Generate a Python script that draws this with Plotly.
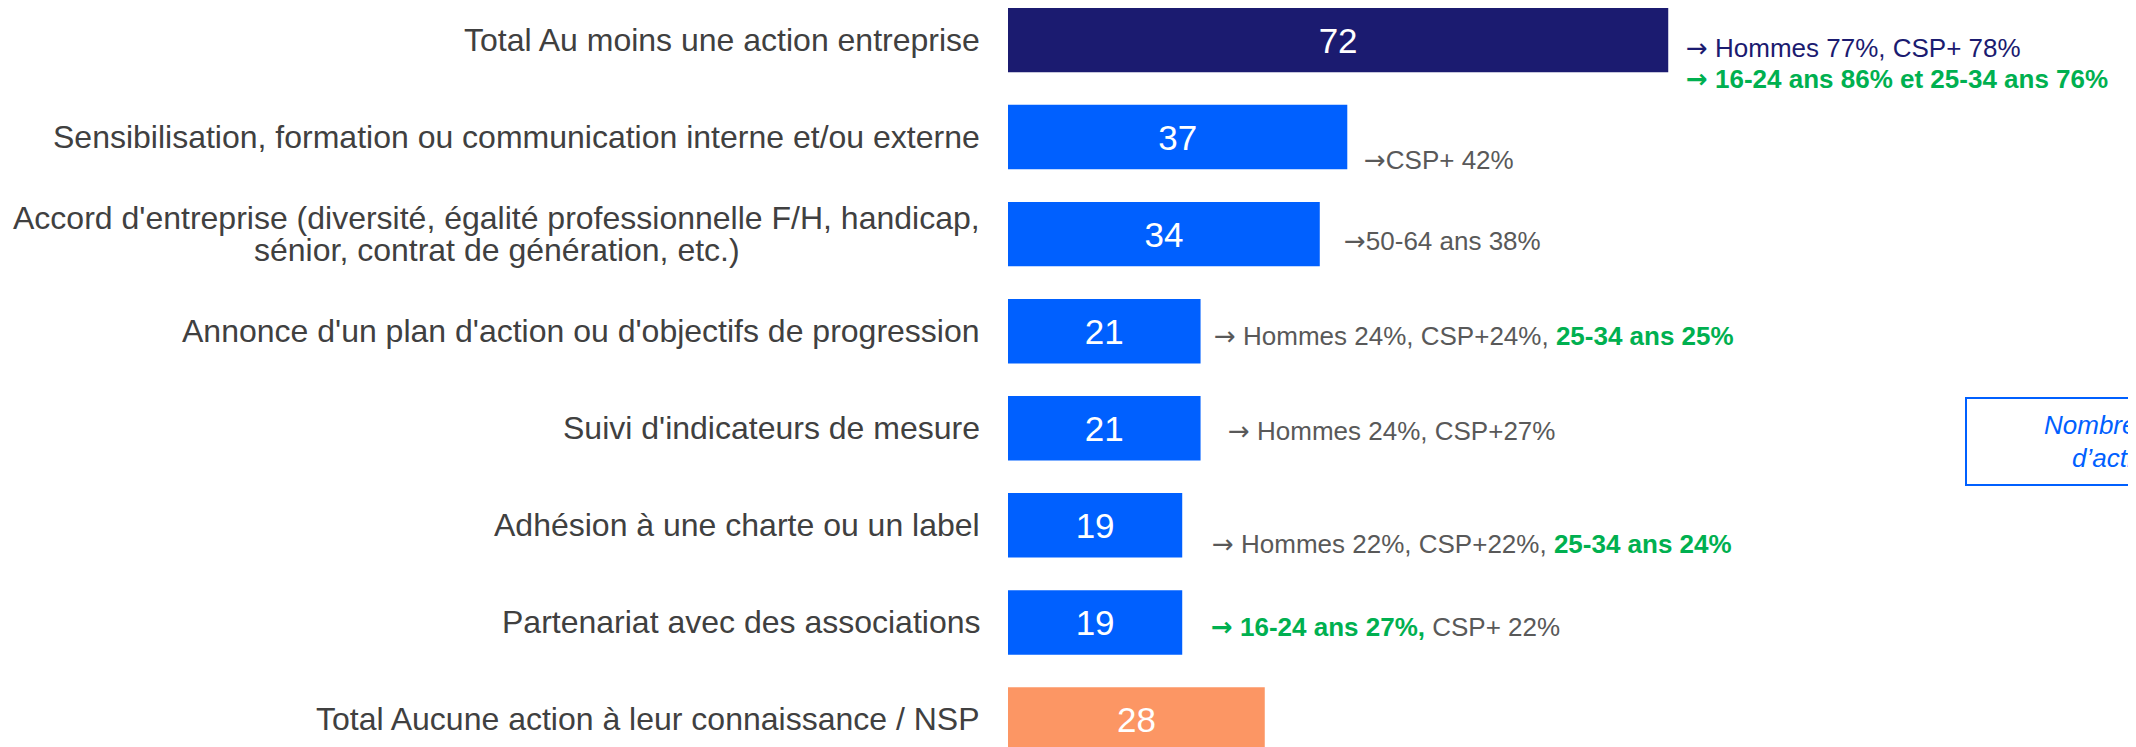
import plotly.graph_objects as go

# ---------------- data ----------------
categories = [
    "Total Au moins une action entreprise",
    "Sensibilisation, formation ou communication interne et/ou externe",
    "Accord d'entreprise (diversité, égalité professionnelle F/H, handicap,<br>sénior, contrat de génération, etc.)",
    "Annonce d'un plan d'action ou d'objectifs de progression",
    "Suivi d'indicateurs de mesure",
    "Adhésion à une charte ou un label",
    "Partenariat avec des associations",
    "Total Aucune action à leur connaissance / NSP",
]
values = [72, 37, 34, 21, 21, 19, 19, 28]

GREEN = "#00B050"
GRAY = "#595959"
NAVY = "#1B1B70"
BLUE = "#0060FF"
ORANGE = "#FC9664"

ARR = "<span style='font-family:DejaVu Sans'>→</span>"

# each note: list of lines (one annotation per line)
notes = [
    [f"<span style='color:{NAVY}'>{ARR} Hommes 77%, CSP+ 78%</span>",
     f"<span style='color:{GREEN}'><b>{ARR} 16-24 ans 86% et 25-34 ans 76%</b></span>"],
    [f"{ARR}CSP+ 42%"],
    [f"{ARR}50-64 ans 38%"],
    [f"{ARR} Hommes 24%, CSP+24%, <span style='color:{GREEN}'><b>25-34 ans 25%</b></span>"],
    [f"{ARR} Hommes 24%, CSP+27%"],
    [f"{ARR} Hommes 22%, CSP+22%, <span style='color:{GREEN}'><b>25-34 ans 24%</b></span>"],
    [f"<span style='color:{GREEN}'><b>{ARR} 16-24 ans 27%,</b></span> CSP+ 22%"],
    [],
]

box_lines = ["Nombre moyen", "d’actions citées"]

# ---------------- styles / positions ----------------
bar_colors = [NAVY, BLUE, BLUE, BLUE, BLUE, BLUE, BLUE, ORANGE]
note_xshift = [16, 15, 22, 11, 25, 28, 27, 0]
note_dy = [[8, 39], [22.5], [7], [4.5], [3], [19], [5], []]

FONT = "Arial, Liberation Sans, sans-serif"
W, H = 2136, 747
ML = 1000
PX_PER_UNIT = 9.17
ROW0 = 32.0
ROW_STEP = 97.07

rows = list(range(len(categories)))

fig = go.Figure()
fig.add_trace(go.Bar(
    x=values,
    y=rows,
    orientation="h",
    width=0.664,
    marker=dict(color=bar_colors, line=dict(width=0)),
    text=[str(v) for v in values],
    textposition="inside",
    insidetextanchor="middle",
    textangle=0,
    constraintext="none",
    textfont=dict(color="white", size=35, family=FONT),
    hoverinfo="skip",
))

annotations = []
# category labels
for i, lab in enumerate(categories):
    parts = lab.split("<br>")
    if len(parts) == 1:
        annotations.append(dict(
            x=0, xref="paper", y=i, yref="y", xanchor="right", yanchor="middle",
            xshift=-26, text=lab, showarrow=False, align="right",
            font=dict(size=32, color="#404040", family=FONT)))
    else:
        annotations.append(dict(
            x=0, xref="paper", y=i, yref="y", xanchor="right", yanchor="middle",
            xshift=-26, yshift=16, text=parts[0], showarrow=False, align="right",
            font=dict(size=32, color="#404040", family=FONT)))
        annotations.append(dict(
            x=0, xref="paper", y=i, yref="y", xanchor="center", yanchor="middle",
            xshift=-(ML - 488.5), yshift=-16, text=parts[1], showarrow=False, align="center",
            font=dict(size=32, color="#404040", family=FONT)))

# notes to the right of the bars
for i, (v, lines) in enumerate(zip(values, notes)):
    for line, dy in zip(lines, note_dy[i]):
        annotations.append(dict(
            x=v, xref="x", y=i, yref="y", xanchor="left", yanchor="middle",
            xshift=note_xshift[i], yshift=-dy, text=line, showarrow=False,
            align="left", font=dict(size=26, color=GRAY, family=FONT)))

# side box text (partly outside the page, as in the original)
plot_w = W - ML
box_x0 = (1958 - ML) / plot_w
annotations.append(dict(
    x=(2034 - ML) / plot_w, xref="paper", y=1 - 416.5 / H, yref="paper",
    xanchor="left", yanchor="middle", text=f"<i>{box_lines[0]}</i>", showarrow=False,
    font=dict(size=26, color=BLUE, family=FONT)))
annotations.append(dict(
    x=(2062 - ML) / plot_w, xref="paper", y=1 - 450 / H, yref="paper",
    xanchor="left", yanchor="middle", text=f"<i>{box_lines[1]}</i>", showarrow=False,
    font=dict(size=26, color=BLUE, family=FONT)))

shapes = [dict(
    type="rect", xref="paper", yref="paper",
    x0=box_x0, x1=1.3, y0=1 - 477 / H, y1=1 - 390 / H,
    line=dict(color=BLUE, width=2), fillcolor="rgba(0,0,0,0)", layer="above")]

y_top = -ROW0 / ROW_STEP
y_bot = (H - ROW0) / ROW_STEP

fig.update_layout(
    width=W, height=H,
    margin=dict(l=ML, r=0, t=0, b=0, pad=0),
    paper_bgcolor="white", plot_bgcolor="white",
    showlegend=False,
    xaxis=dict(range=[0, plot_w / PX_PER_UNIT], visible=False, fixedrange=True),
    yaxis=dict(range=[y_bot, y_top], visible=False, fixedrange=True),
    annotations=annotations,
    shapes=shapes,
    font=dict(family=FONT),
)

fig.write_html("out.html")
